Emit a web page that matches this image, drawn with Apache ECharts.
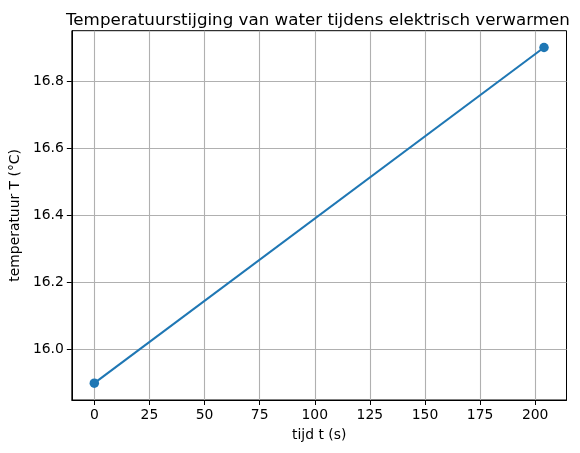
<!DOCTYPE html>
<html>
<head>
<meta charset="utf-8">
<script src="https://cdn.jsdelivr.net/npm/echarts@6/dist/echarts.min.js"></script>
<style>
  html, body { margin: 0; padding: 0; background: #fff; }
  #chart { width: 580px; height: 453px; }
</style>
</head>
<body>
<div id="chart"></div>
<script>
// measurements: time (s) and water temperature (°C)
const tijd = [0, 204];
const temperatuur = [15.9, 16.9];
const xTicks = [0, 25, 50, 75, 100, 125, 150, 175, 200];
const yTicks = [16.0, 16.2, 16.4, 16.6, 16.8];

let chart = echarts.init(document.getElementById('chart'));

const font = 'DejaVu Sans';
let points = tijd.map((t, i) => [t, temperatuur[i]]);

chart.setOption({
  animation: false,
  title: {
    text: 'Temperatuurstijging van water tijdens elektrisch verwarmen',
    left: 61,
    top: 7,
    textStyle: { fontFamily: font, fontSize: 16.7, fontWeight: 'normal', color: '#000' }
  },
  grid: {
    left: 70, right: 13.5, top: 30.7, bottom: 53,
    show: true, borderColor: '#000', borderWidth: 1
  },
  xAxis: {
    type: 'value',
    min: -10.2,
    max: 214.2,
    name: 'tijd t (s)',
    nameLocation: 'middle',
    nameGap: 28,
    nameTextStyle: { fontFamily: font, fontSize: 13.9, color: '#000' },
    axisLine: { show: true, onZero: false, lineStyle: { color: '#000', width: 1 } },
    axisTick: { show: true, length: 5, customValues: xTicks, lineStyle: { color: '#000' } },
    axisLabel: { customValues: xTicks, margin: 8, fontFamily: font, fontSize: 13.9, color: '#000' },
    splitLine: { show: true, lineStyle: { color: '#b0b0b0', width: 1.1 } }
  },
  yAxis: {
    type: 'value',
    min: 15.85,
    max: 16.95,
    name: 'temperatuur T (°C)',
    nameLocation: 'middle',
    nameGap: 46,
    nameTextStyle: { fontFamily: font, fontSize: 13.9, color: '#000' },
    axisLine: { show: true, onZero: false, lineStyle: { color: '#000', width: 1 } },
    axisTick: { show: true, length: 5, customValues: yTicks, lineStyle: { color: '#000' } },
    axisLabel: {
      customValues: yTicks, margin: 8, fontFamily: font, fontSize: 13.9, color: '#000',
      formatter: (v) => v.toFixed(1)
    },
    splitLine: { show: true, lineStyle: { color: '#b0b0b0', width: 1.1 } }
  },
  series: [
    {
      type: 'line',
      data: points,
      symbol: 'circle',
      symbolSize: 9.5,
      lineStyle: { color: '#1f77b4', width: 2.1 },
      itemStyle: { color: '#1f77b4' }
    }
  ]
});
</script>
</body>
</html>
